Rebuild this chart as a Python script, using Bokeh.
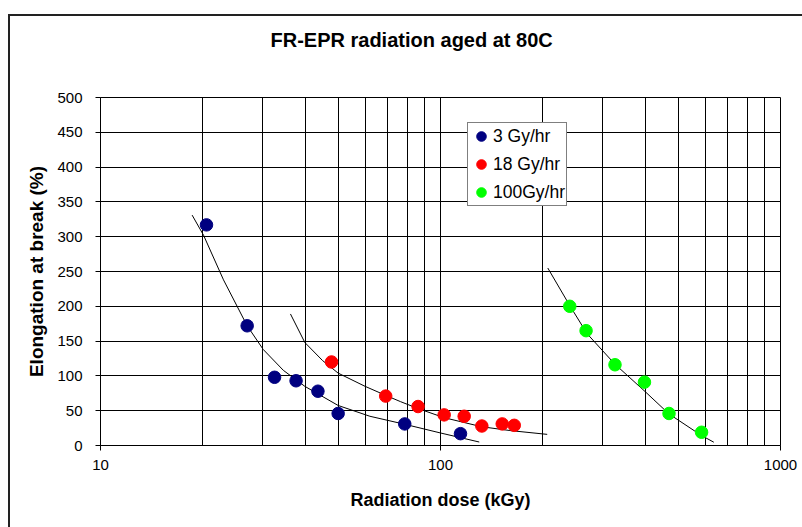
from bokeh.plotting import figure
from bokeh.layouts import column
from bokeh.models import FixedTicker, PrintfTickFormatter, Legend, LegendItem
from bokeh.embed import file_html
from bokeh.resources import INLINE

# ---- data ----
dose_3 = [20.5, 27.0, 32.5, 37.6, 43.6, 50.0, 78.5, 114.5]
elong_3 = [317, 172, 98, 93, 78, 46, 31, 17]

dose_18 = [47.8, 69.0, 85.9, 102.5, 117.4, 132.3, 151.9, 164.8]
elong_18 = [120, 71, 56, 44, 42, 28, 31, 29]

dose_100 = [240, 268, 326, 398, 470, 586]
elong_100 = [200, 165, 116, 91, 46, 19]

# trend curves
trend_3_x = [18.6, 20.1, 23.0, 27.0, 30.1, 34.5, 39.9, 50.0, 62.0, 78.5, 100, 130]
trend_3_y = [331, 302, 238, 172, 138, 108, 85, 57.5, 42, 30.5, 18, 5]

trend_18_x = [36.2, 39.9, 45.0, 50.0, 60.0, 69.0, 76.3, 86.0, 102.5, 132.0, 160.0, 206.0]
trend_18_y = [189, 148, 122, 104, 85, 72, 63, 53, 40, 27, 21.5, 16]

trend_100_x = [206.8, 240, 270, 325.6, 400.8, 469.5, 585, 636.6]
trend_100_y = [255, 201, 160.5, 117, 77, 45.5, 14.5, 4.7]

series_names = ["3 Gy/hr", "18 Gy/hr", "100Gy/hr"]
series_colors = ["#000080", "#FF0000", "#00FF00"]

x_major = [10, 100, 1000]
x_minor = [20, 30, 40, 50, 60, 70, 80, 90, 200, 300, 400, 500, 600, 700, 800, 900]
y_ticks = [0, 50, 100, 150, 200, 250, 300, 350, 400, 450, 500]

chart_title = "FR-EPR radiation aged at 80C"

FONT = "Liberation Sans"

# ---- header strip carrying the chart title ----
header = figure(width=792, height=71, output_backend="svg", toolbar_location=None,
                min_border_left=0, min_border_right=0, min_border_top=0, min_border_bottom=0,
                background_fill_color="white", border_fill_color="white")
header.xaxis.visible = False
header.yaxis.visible = False
header.xgrid.grid_line_color = None
header.ygrid.grid_line_color = None
header.outline_line_color = None
header.title.text = chart_title
header.title.align = "left"
header.title.offset = 170
header.title.standoff = 21
header.title.text_font = FONT
header.title.text_font_size = "20px"
header.title.text_font_style = "bold"
header.title.text_color = "black"

# ---- main chart ----
p = figure(width=792, height=440, x_axis_type="log", x_range=(10, 1000), y_range=(0, 500),
           output_backend="svg", toolbar_location=None,
           min_border_left=90, min_border_right=22, min_border_top=10, min_border_bottom=82,
           background_fill_color="white", border_fill_color="white")

xt = FixedTicker(ticks=x_major, minor_ticks=x_minor)
p.xaxis.ticker = xt
p.xgrid.ticker = xt
p.xaxis.formatter = PrintfTickFormatter(format="%d")
yt = FixedTicker(ticks=y_ticks)
p.yaxis.ticker = yt
p.ygrid.ticker = yt

for ax in (p.xaxis[0], p.yaxis[0]):
    ax.axis_line_color = "black"
    ax.axis_line_width = 1
    ax.major_tick_line_color = "black"
    ax.major_tick_out = 5
    ax.major_tick_in = 0
    ax.minor_tick_line_color = None
    ax.major_label_text_font = FONT
    ax.major_label_text_font_size = "15px"
    ax.major_label_text_color = "black"
    ax.axis_label_text_font = FONT
    ax.axis_label_text_font_style = "bold"
    ax.axis_label_text_color = "black"

p.xaxis.axis_label = "Radiation dose (kGy)"
p.yaxis.axis_label = "Elongation at break (%)"
p.xaxis.axis_label_text_font_size = "18px"
p.yaxis.axis_label_text_font_size = "19px"
p.xaxis.major_label_standoff = 9
p.xaxis.axis_label_standoff = 17
p.yaxis.major_label_standoff = 13
p.yaxis.axis_label_standoff = 7

p.xgrid.grid_line_color = "black"
p.xgrid.minor_grid_line_color = "black"
p.ygrid.grid_line_color = "black"
p.outline_line_color = "black"

# trend lines
p.line(trend_3_x, trend_3_y, line_color="black", line_width=1)
p.line(trend_18_x, trend_18_y, line_color="black", line_width=1)
p.line(trend_100_x, trend_100_y, line_color="black", line_width=1)

r1 = p.scatter(dose_3, elong_3, size=12.5, fill_color=series_colors[0], line_color=series_colors[0])
r2 = p.scatter(dose_18, elong_18, size=12.5, fill_color=series_colors[1], line_color=series_colors[1])
r3 = p.scatter(dose_100, elong_100, size=12.5, fill_color=series_colors[2], line_color=series_colors[2])

legend = Legend(items=[LegendItem(label=series_names[0], renderers=[r1]),
                       LegendItem(label=series_names[1], renderers=[r2]),
                       LegendItem(label=series_names[2], renderers=[r3])],
                location=(367, 239))
legend.label_text_font = FONT
legend.label_text_font_size = "17.5px"
legend.label_text_color = "black"
legend.glyph_width = 24
legend.glyph_height = 24
legend.label_height = 24
legend.label_standoff = 0
legend.spacing = 4
legend.padding = 1
legend.margin = 0
legend.border_line_color = "black"
legend.border_line_width = 1
legend.background_fill_color = "white"
legend.background_fill_alpha = 1
p.add_layout(legend, "center")

# outer chart border (runs off the right and bottom of the window, as in the reference)
page = column(header, p, margin=(14, 0, 0, 8), spacing=0,
              styles={"border-left": "2px solid #222222", "border-top": "2px solid #222222"})

open("out.html", "w").write(file_html(page, INLINE))
